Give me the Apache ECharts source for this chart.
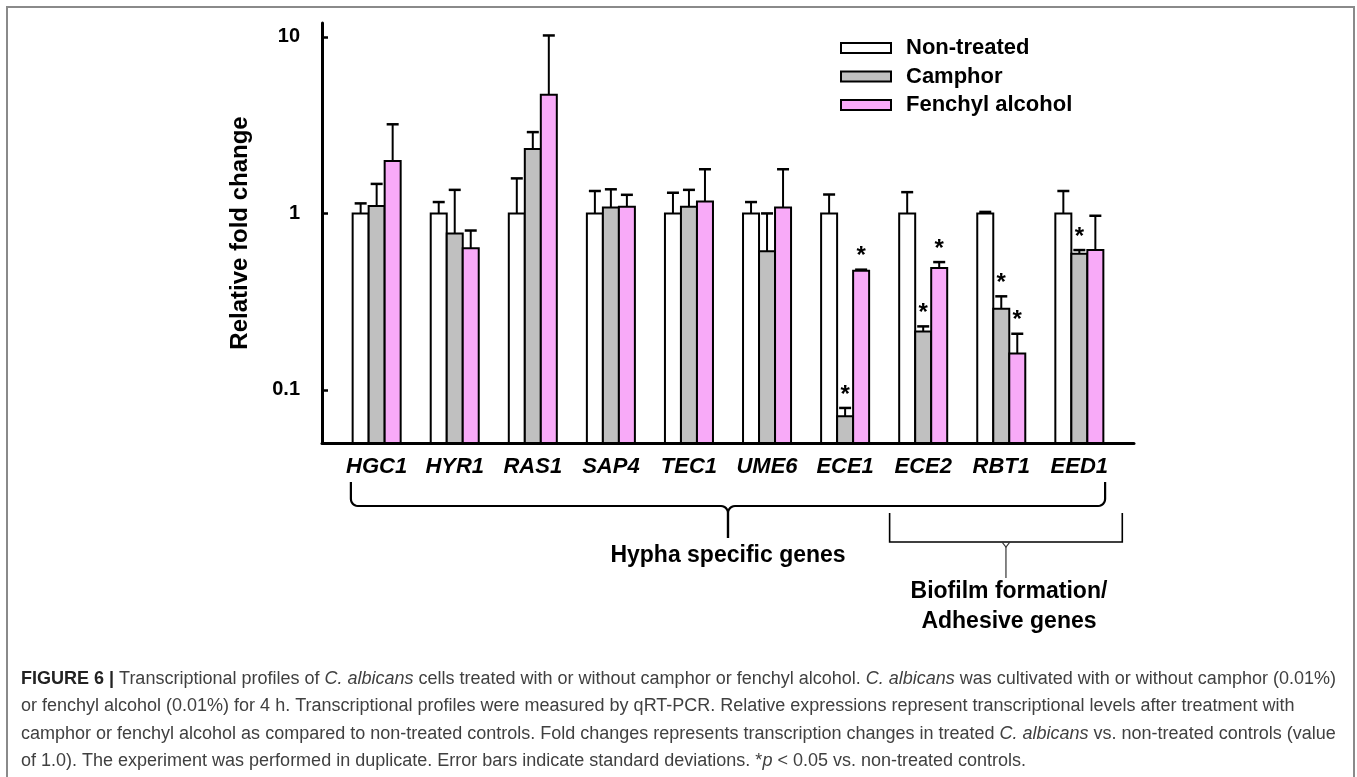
<!DOCTYPE html>
<html><head><meta charset="utf-8">
<script src="https://cdn.jsdelivr.net/npm/echarts@6/dist/echarts.min.js"></script>
<style>html,body{margin:0;padding:0;background:#fff;} #c{width:1357px;height:777px;}</style>
</head><body><div id="c"></div>
<script>
// ---- data ----
const genes = ['HGC1','HYR1','RAS1','SAP4','TEC1','UME6','ECE1','ECE2','RBT1','EED1'];
const seriesNames = ['Non-treated','Camphor','Fenchyl alcohol'];
const nonTreated    = [1, 1, 1, 1, 1, 1, 1, 1, 1, 1];
const nonTreatedErr = [1.14, 1.16, 1.58, 1.34, 1.31, 1.16, 1.28, 1.32, 1.02, 1.34];
const nonTreatedSig = [0, 0, 0, 0, 0, 0, 0, 0, 0, 0];
const camphor       = [1.10, 0.77, 2.32, 1.08, 1.09, 0.61, 0.071, 0.214, 0.288, 0.59];
const camphorErr    = [1.47, 1.36, 2.89, 1.37, 1.36, 1.00, 0.079, 0.229, 0.339, 0.62];
const camphorSig    = [0, 0, 0, 0, 0, 0, 1, 1, 1, 1];
const fenchyl       = [1.98, 0.635, 4.7, 1.09, 1.17, 1.08, 0.474, 0.49, 0.161, 0.62];
const fenchylErr    = [3.20, 0.80, 10.2, 1.275, 1.78, 1.78, 0.48, 0.53, 0.208, 0.97];
const fenchylSig    = [0, 0, 0, 0, 0, 0, 1, 1, 1, 0];
const yTicks = [0.1, 1, 10];
const groupLabels = ['Hypha specific genes', 'Biofilm formation/\nAdhesive genes'];
const captionLines = [
  '{b|FIGURE 6 |} Transcriptional profiles of {i|C. albicans} cells treated with or without camphor or fenchyl alcohol. {i|C. albicans} was cultivated with or without camphor (0.01%)',
  'or fenchyl alcohol (0.01%) for 4 h. Transcriptional profiles were measured by qRT-PCR. Relative expressions represent transcriptional levels after treatment with',
  'camphor or fenchyl alcohol as compared to non-treated controls. Fold changes represents transcription changes in treated {i|C. albicans} vs. non-treated controls (value',
  'of 1.0). The experiment was performed in duplicate. Error bars indicate standard deviations. *{i|p} < 0.05 vs. non-treated controls.'
];

// ---- style ----
const colors = ['#ffffff', '#c0c0c0', '#f8aaf8'];
const Y_MIN = 0.05, Y_MAX = 12;
const X_MIN = -0.7, X_MAX = 9.7;
const BAR_W = 0.205;
const offsets = [-0.205, 0, 0.205];
const FONT = '"Liberation Sans", Arial, sans-serif';
const CAP_SIZE = 18;

function makeData(vals, errs, sig) { return vals.map((v, i) => [i, v, errs[i], sig[i]]); }

function renderBar(k) {
  return function (params, api) {
    const x = api.value(0) + offsets[k], v = api.value(1), e = api.value(2), s = api.value(3);
    const p = api.coord([x, v]);
    const unit = api.coord([x + 1, v])[0] - p[0];
    const base = api.coord([x, Y_MIN])[1];
    const et = api.coord([x, e])[1];
    const w = BAR_W * unit;
    const capW = 12;
    const children = [
      {type: 'rect', shape: {x: p[0] - w / 2, y: p[1], width: w, height: base - p[1]},
       style: {fill: colors[k], stroke: '#000', lineWidth: 2}},
      {type: 'line', shape: {x1: p[0], y1: p[1], x2: p[0], y2: et}, style: {stroke: '#000', lineWidth: 2}},
      {type: 'line', shape: {x1: p[0] - capW / 2, y1: et, x2: p[0] + capW / 2, y2: et}, style: {stroke: '#000', lineWidth: 2.5}}
    ];
    if (s) children.push({type: 'text', style: {text: '*', x: p[0], y: et - 13, align: 'center', verticalAlign: 'middle',
      font: 'bold 24px ' + FONT, fill: '#000'}});
    return {type: 'group', children};
  };
}

const allData = [
  makeData(nonTreated, nonTreatedErr, nonTreatedSig),
  makeData(camphor, camphorErr, camphorSig),
  makeData(fenchyl, fenchylErr, fenchylSig)
];

const chart = echarts.init(document.getElementById('c'));
const option = {
  animation: false,
  backgroundColor: '#fff',
  grid: {left: 322, top: 23, width: 812, height: 420, containLabel: false},
  legend: {
    orient: 'vertical', left: 835, top: 32, icon: 'rect', itemWidth: 50, itemHeight: 10, itemGap: 6.5,
    selectedMode: false,
    textStyle: {fontFamily: FONT, fontWeight: 'bold', fontSize: 22, color: '#000', lineHeight: 22, padding: [0, 0, 0, 10]},
    data: seriesNames.map((n, k) => ({name: n, itemStyle: {color: colors[k], borderColor: '#000', borderWidth: 2}}))
  },
  xAxis: {
    type: 'value', min: X_MIN, max: X_MAX,
    axisLine: {show: true, onZero: false, lineStyle: {color: '#000', width: 3}},
    axisTick: {show: false}, splitLine: {show: false},
    axisLabel: {
      customValues: genes.map((g, i) => i), margin: 13,
      formatter: v => genes[Math.round(v)] || '',
      fontFamily: FONT, fontWeight: 'bold', fontStyle: 'italic', fontSize: 22, color: '#000'
    }
  },
  yAxis: {
    type: 'log', logBase: 10, min: Y_MIN, max: Y_MAX,
    name: 'Relative fold change', nameLocation: 'middle', nameGap: 70,
    nameTextStyle: {fontFamily: FONT, fontWeight: 'bold', fontSize: 24, color: '#000'},
    axisLine: {show: true, onZero: false, lineStyle: {color: '#000', width: 3}},
    axisTick: {show: true, inside: true, length: 6, customValues: yTicks, lineStyle: {color: '#000', width: 2.5}},
    splitLine: {show: false},
    axisLabel: {customValues: yTicks, margin: 22, formatter: v => String(+v.toPrecision(3)),
      fontFamily: FONT, fontWeight: 'bold', fontSize: 20, color: '#000'}
  },
  series: seriesNames.map((n, k) => ({
    type: 'custom', name: n, renderItem: renderBar(k), clip: false,
    itemStyle: {color: colors[k], borderColor: '#000', borderWidth: 2},
    encode: {x: 0, y: 1}, data: allData[k], z: 1
  }))
};
chart.setOption(option);

// ---- annotations: brackets & caption ----
function px(u) { return chart.convertToPixel({gridIndex: 0}, [u, Y_MIN])[0]; }
function arcPts(cx, cy, r, a0, a1, n) {
  const pts = [];
  for (let i = 0; i <= n; i++) { const a = a0 + (a1 - a0) * i / n; pts.push([cx + r * Math.cos(a), cy + r * Math.sin(a)]); }
  return pts;
}
const b1L = px(-0.33), b1R = px(9.33), b1C = (b1L + b1R) / 2;
const yTop1 = 482, yH1 = 506, yStem1 = 538, r = 7;
const PI = Math.PI;
const leftHalf = [[b1L, yTop1]].concat(arcPts(b1L + r, yH1 - r, r, PI, PI / 2, 6))
  .concat(arcPts(b1C - r, yH1 + r, r, -PI / 2, 0, 6)).concat([[b1C, yStem1]]);
const rightHalf = [[b1R, yTop1]].concat(arcPts(b1R - r, yH1 - r, r, 0, PI / 2, 6))
  .concat(arcPts(b1C + r, yH1 + r, r, -PI / 2, -PI, 6)).concat([[b1C, yStem1]]);
const b2L = px(6.57), b2R = px(9.55), b2C = (b2L + b2R) / 2;
const yTop2 = 513, yH2 = 542, yStem2 = 578;

const graphics = [
  {type: 'rect', shape: {x: 7, y: 7, width: 1347, height: 820}, style: {fill: 'none', stroke: '#8a8a8a', lineWidth: 2}, z: -1, silent: true},
  {type: 'polyline', shape: {points: leftHalf}, style: {stroke: '#000', lineWidth: 2.2, fill: 'none'}},
  {type: 'polyline', shape: {points: rightHalf}, style: {stroke: '#000', lineWidth: 2.2, fill: 'none'}},
  {type: 'polyline', shape: {points: [[b2L, yTop2], [b2L, yH2], [b2R, yH2], [b2R, yTop2]]}, style: {stroke: '#000', lineWidth: 1.6, fill: 'none'}},
  {type: 'polyline', shape: {points: [[b2C - 4, yH2], [b2C, yH2 + 5], [b2C + 4, yH2]]}, style: {stroke: '#333', lineWidth: 1.2, fill: 'none'}},
  {type: 'line', shape: {x1: b2C, y1: yH2 + 5, x2: b2C, y2: yStem2}, style: {stroke: '#333', lineWidth: 1.2}},
  {type: 'text', style: {text: groupLabels[0], x: b1C, y: 556, align: 'center', verticalAlign: 'middle',
    font: 'bold 23px ' + FONT, fill: '#000'}},
  {type: 'text', style: {text: groupLabels[1], x: b2C + 3, y: 607, align: 'center', verticalAlign: 'middle',
    font: 'bold 23px ' + FONT, fill: '#000', lineHeight: 30}}
];
captionLines.forEach((t, i) => {
  graphics.push({type: 'text', style: {
    text: t, x: 21, y: 679 + i * 27.4, align: 'left', verticalAlign: 'middle',
    font: CAP_SIZE + 'px ' + FONT, fill: '#404040',
    rich: {
      b: {fontFamily: FONT, fontWeight: 'bold', fontSize: CAP_SIZE, fill: '#222'},
      i: {fontFamily: FONT, fontStyle: 'italic', fontSize: CAP_SIZE, fill: '#404040'}
    }
  }});
});
chart.setOption({graphic: graphics});
</script></body></html>
